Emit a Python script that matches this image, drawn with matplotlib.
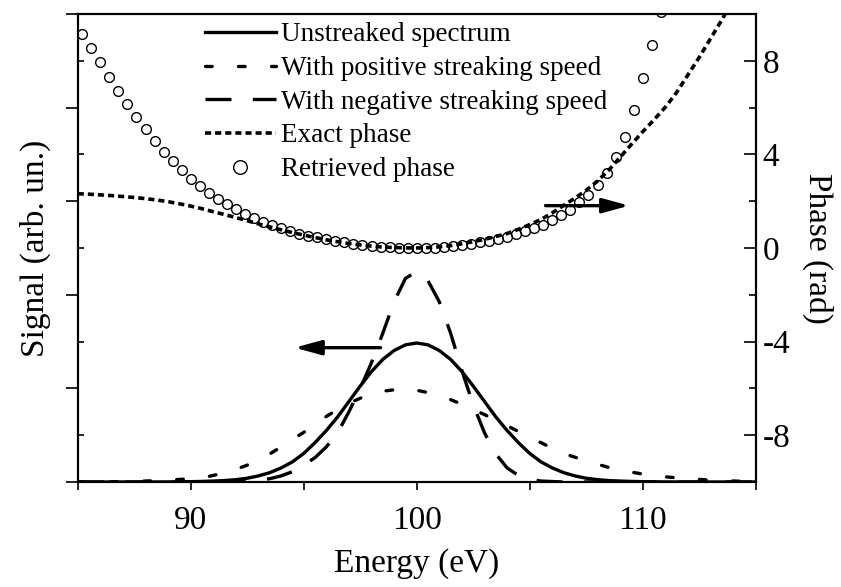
import matplotlib
matplotlib.use('Agg')
import matplotlib.pyplot as plt
from matplotlib.ticker import FixedLocator, NullFormatter

plt.rcParams['font.family'] = ['Liberation Serif', 'DejaVu Serif']
plt.rcParams['axes.unicode_minus'] = False

# energy grid for the spectra (eV)
energy = [85.0, 85.5, 86.0, 86.5, 87.0, 87.5, 88.0, 88.5, 89.0, 89.5,
          90.0, 90.5, 91.0, 91.5, 92.0, 92.5, 93.0, 93.5, 94.0, 94.5,
          95.0, 95.5, 96.0, 96.5, 97.0, 97.5, 98.0, 98.5, 99.0, 99.5,
          100.0, 100.5, 101.0, 101.5, 102.0, 102.5, 103.0, 103.5, 104.0, 104.5,
          105.0, 105.5, 106.0, 106.5, 107.0, 107.5, 108.0, 108.5, 109.0, 109.5,
          110.0, 110.5, 111.0, 111.5, 112.0, 112.5, 113.0, 113.5, 114.0, 114.5,
          115.0]

unstreaked = [0, 0, 0, 0, 0, 0, 0, 0.0001, 0.0002, 0.0004,
              0.0007, 0.0012, 0.002, 0.003, 0.005, 0.008, 0.013, 0.020, 0.030, 0.043,
              0.061, 0.084, 0.110, 0.139, 0.172, 0.205, 0.236, 0.262, 0.281, 0.293,
              0.297, 0.293, 0.281, 0.262, 0.236, 0.205, 0.172, 0.139, 0.110, 0.084,
              0.061, 0.043, 0.030, 0.020, 0.013, 0.008, 0.005, 0.003, 0.002, 0.0012,
              0.0007, 0.0004, 0.0002, 0.0001, 0, 0, 0, 0, 0, 0,
              0]

positive = [0.0, 0.0002, 0.0003, 0.0005, 0.0008, 0.0013, 0.002, 0.003, 0.004, 0.0055,
            0.007, 0.009, 0.014, 0.020, 0.027, 0.036, 0.047, 0.060, 0.075, 0.091,
            0.106, 0.123, 0.140, 0.155, 0.168, 0.179, 0.188, 0.194, 0.197, 0.198,
            0.196, 0.191, 0.184, 0.176, 0.166, 0.155, 0.144, 0.132, 0.120, 0.108,
            0.096, 0.084, 0.072, 0.061, 0.053, 0.045, 0.038, 0.031, 0.026, 0.021,
            0.017, 0.014, 0.011, 0.009, 0.007, 0.0055, 0.004, 0.003, 0.002, 0.0015,
            0.001]

negative = [0, 0, 0, 0, 0, 0, 0, 0, 0, 0,
            0, 0, 0.0, 0.0005, 0.001, 0.002, 0.004, 0.007, 0.013, 0.022,
            0.036, 0.052, 0.075, 0.105, 0.150, 0.200, 0.255, 0.318, 0.385, 0.435,
            0.450, 0.430, 0.385, 0.318, 0.238, 0.165, 0.105, 0.060, 0.030, 0.014,
            0.006, 0.002, 0.001, 0, 0, 0, 0, 0, 0, 0,
            0, 0, 0, 0, 0, 0, 0, 0, 0, 0,
            0]

# exact spectral phase (rad)
phase_energy = [85.0, 85.5, 86.0, 86.5, 87.0, 87.5, 88.0, 88.5, 89.0, 89.5,
                90.0, 90.5, 91.0, 91.5, 92.0, 92.5, 93.0, 93.5, 94.0, 94.5,
                95.0, 95.5, 96.0, 96.5, 97.0, 97.5, 98.0, 98.5, 99.0, 99.5,
                100.0, 100.5, 101.0, 101.5, 102.0, 102.5, 103.0, 103.5, 104.0, 104.5,
                105.0, 105.5, 106.0, 106.5, 107.0, 107.5, 108.0, 108.5, 109.0, 109.5,
                110.0, 110.5, 111.0, 111.5, 112.0, 112.5, 113.0, 113.5, 114.0]
exact_phase = [2.32, 2.30, 2.27, 2.24, 2.20, 2.16, 2.11, 2.05, 1.98, 1.89,
               1.79, 1.68, 1.55, 1.43, 1.30, 1.17, 1.03, 0.90, 0.78, 0.66,
               0.55, 0.45, 0.35, 0.27, 0.19, 0.13, 0.08, 0.04, 0.02, 0.005,
               0.0, 0.015, 0.05, 0.10, 0.18, 0.27, 0.37, 0.49, 0.62, 0.80,
               1.00, 1.22, 1.50, 1.82, 2.13, 2.47, 2.86, 3.33, 3.88, 4.43,
               4.97, 5.48, 6.02, 6.65, 7.40, 8.15, 8.95, 9.75, 10.6]

# retrieved phase (open circles)
retr_energy = [85.2, 85.6, 86.0, 86.4, 86.8, 87.2, 87.6, 88.0, 88.4, 88.8,
               89.2, 89.6, 90.0, 90.4, 90.8, 91.2, 91.6, 92.0, 92.4, 92.8,
               93.2, 93.6, 94.0, 94.4, 94.8, 95.2, 95.6, 96.0, 96.4, 96.8,
               97.2, 97.6, 98.0, 98.4, 98.8, 99.2, 99.6, 100.0, 100.4, 100.8,
               101.2, 101.6, 102.0, 102.4, 102.8, 103.2, 103.6, 104.0, 104.4, 104.8,
               105.2, 105.6, 106.0, 106.4, 106.8, 107.2, 107.6, 108.0, 108.4, 108.8,
               109.2, 109.6, 110.0, 110.4, 110.8]
retr_phase = [9.15, 8.55, 7.93, 7.29, 6.71, 6.14, 5.58, 5.07, 4.57, 4.12,
              3.70, 3.33, 2.97, 2.65, 2.35, 2.09, 1.86, 1.67, 1.47, 1.29,
              1.11, 0.97, 0.85, 0.73, 0.61, 0.53, 0.45, 0.37, 0.30, 0.24,
              0.18, 0.13, 0.09, 0.06, 0.03, 0.015, 0.005, 0.0, 0.005, 0.02,
              0.045, 0.08, 0.12, 0.18, 0.24, 0.31, 0.40, 0.49, 0.60, 0.71,
              0.85, 1.00, 1.20, 1.41, 1.64, 1.95, 2.28, 2.69, 3.21, 3.91,
              4.76, 5.91, 7.26, 8.68, 10.1]

fig = plt.figure(figsize=(8.41, 5.87), dpi=100)
ax = fig.add_axes([0.0924, 0.1789, 0.8062, 0.7972])
ax2 = ax.twinx()

lw = 2.4
l1, = ax.plot(energy, unstreaked, color='k', lw=lw, label='Unstreaked spectrum')
l2, = ax.plot(energy, positive, color='k', lw=lw, ls=(0, (2.0, 7.9)),
              dash_capstyle='round', label='With positive streaking speed')
l3, = ax.plot(energy, negative, color='k', lw=lw, ls=(0, (7.8, 6.4)),
              label='With negative streaking speed')
l4, = ax2.plot(phase_energy, exact_phase, color='k', lw=2.6, ls=(0, (1.7, 1.1)),
               label='Exact phase')
l5, = ax2.plot(retr_energy, retr_phase, ls='none', marker='o', ms=7,
               mfc='none', mec='k', mew=1.0, label='Retrieved phase')

ax.set_xlim(85, 115)
ax.set_ylim(0, 1.0)
ax2.set_ylim(-10, 10)

# arrows pointing to the relevant axis
ax.annotate('', xy=(94.6, 0.287), xytext=(98.4, 0.287),
            arrowprops=dict(arrowstyle='-|>,head_length=0.8,head_width=0.22',
                            mutation_scale=20, lw=2.4, color='k',
                            shrinkA=0, shrinkB=0))
ax2.annotate('', xy=(109.4, 1.81), xytext=(105.7, 1.81),
             arrowprops=dict(arrowstyle='-|>,head_length=0.8,head_width=0.22',
                             mutation_scale=20, lw=2.4, color='k',
                             shrinkA=0, shrinkB=0))

for a in (ax, ax2):
    for s in a.spines.values():
        s.set_linewidth(1.5)

ax.xaxis.set_major_locator(FixedLocator([90, 100, 110]))
ax.xaxis.set_minor_locator(FixedLocator([85, 95, 105, 115]))
ax.tick_params(axis='x', which='both', direction='out', length=6, width=1.2,
               labelsize=24, pad=11, top=False)
ax.yaxis.set_major_locator(FixedLocator([0, 0.2, 0.4, 0.6, 0.8, 1.0]))
ax.yaxis.set_minor_locator(FixedLocator([0.1, 0.3, 0.5, 0.7, 0.9]))
ax.yaxis.set_major_formatter(NullFormatter())
ax.tick_params(axis='y', which='major', direction='out', length=9, width=1.2)
ax.tick_params(axis='y', which='minor', direction='in', length=4, width=1.2)

ax2.yaxis.set_major_locator(FixedLocator([-8, -4, 0, 4, 8]))
ax2.yaxis.set_minor_locator(FixedLocator([-10, -6, -2, 2, 6, 10]))
ax2.tick_params(axis='y', which='major', direction='in', length=9, width=1.2,
                labelsize=24, pad=5)
ax2.tick_params(axis='y', which='minor', direction='in', length=5, width=1.2)

ax.set_xlabel('Energy (eV)', fontsize=24, labelpad=9)
ax.set_ylabel('Signal (arb. un.)', fontsize=24, labelpad=7)
ax2.set_ylabel('Phase (rad)', fontsize=24, rotation=270, va='bottom', labelpad=8)

ax2.legend(handles=[l1, l2, l3, l4, l5], loc='upper left',
           bbox_to_anchor=(0.188, 0.982), frameon=False, fontsize=19.5,
           handlelength=2.6, handletextpad=0.2, borderpad=0, borderaxespad=0,
           labelspacing=0.32, numpoints=1, markerscale=1.4)

fig.savefig('out.png', dpi=100)
